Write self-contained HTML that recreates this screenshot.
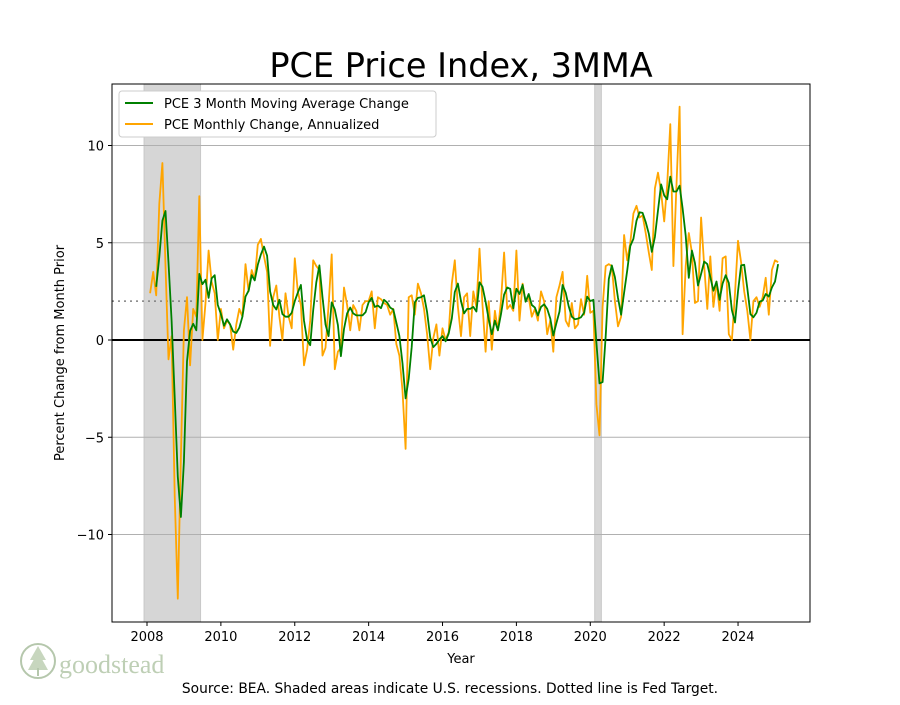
<!DOCTYPE html>
<html><head><meta charset="utf-8"><style>
body{margin:0;background:#fff;font-family:"Liberation Sans","DejaVu Sans",sans-serif;}
</style></head><body>
<svg id="chart" width="900" height="700" xmlns="http://www.w3.org/2000/svg" font-family="DejaVu Sans, Liberation Sans, sans-serif">
<rect width="900" height="700" fill="#fff"/>
<text x="461" y="77" font-size="33.5" text-anchor="middle" fill="#000">PCE Price Index, 3MMA</text>
<g id="plot"></g>
<text x="461" y="663" font-size="13" text-anchor="middle">Year</text>
<text transform="translate(64,353) rotate(-90)" font-size="13" text-anchor="middle">Percent Change from Month Prior</text>
<text x="450" y="693" font-size="13.8" text-anchor="middle">Source: BEA. Shaded areas indicate U.S. recessions. Dotted line is Fed Target.</text>
<g opacity="0.55">
<circle cx="38" cy="661" r="17" fill="none" stroke="#7a9a6a" stroke-width="2"/>
<path d="M38 646 L30 660 L46 660 Z M38 652 L28 670 L48 670 Z" fill="#9ab58a"/>
<rect x="37" y="668" width="2" height="8" fill="#7a9a6a"/>
<text x="59" y="673" font-family="Liberation Serif, serif" font-size="26" fill="#8aa87a">goodstead</text>
</g>
<g>
<rect x="119" y="91" width="317" height="46" fill="#fff" stroke="#ccc" rx="3"/>
<line x1="125" y1="103" x2="153" y2="103" stroke="#008000" stroke-width="2"/>
<text x="164" y="108" font-size="13">PCE 3 Month Moving Average Change</text>
<line x1="125" y1="124" x2="153" y2="124" stroke="#ffa500" stroke-width="2"/>
<text x="164" y="129" font-size="13">PCE Monthly Change, Annualized</text>
</g>
</svg>
<script>
const monthly = [
2.4,3.5,2.3,7.0,9.1,3.8,-1.0,0.2,-8.0,-13.3,-6.0,
0.5,2.2,-1.3,1.6,1.2,7.4,0.0,1.9,4.6,3.0,2.4,0.0,
1.6,0.6,1.0,0.8,-0.5,0.8,1.6,1.2,3.9,2.5,3.6,3.1,
4.9,5.2,4.3,3.5,-0.3,2.2,2.8,1.2,0.0,2.4,1.2,0.6,
4.2,2.5,1.8,-1.3,-0.5,1.0,4.1,3.8,3.6,-0.8,-0.4,1.8,
4.4,-1.5,-0.6,-0.4,2.7,1.8,0.5,1.8,1.5,0.5,1.8,2.0,
2.0,2.5,0.6,2.2,2.1,1.9,1.8,1.3,1.6,-0.2,-0.8,-2.6,
-5.6,2.2,2.3,1.3,2.9,2.4,1.6,0.3,-1.5,0.1,0.8,-0.8,
0.6,0.0,0.4,2.9,4.1,1.7,0.2,2.2,2.4,0.2,2.5,1.7,
4.7,1.8,-0.6,2.0,-0.5,1.5,0.5,2.0,4.5,1.6,1.8,1.5,
4.6,1.0,2.9,2.0,2.2,1.2,1.6,1.0,2.5,2.0,0.3,1.0,
-0.6,2.2,2.8,3.5,1.0,0.7,1.9,0.6,0.8,2.1,1.3,3.3,
1.4,1.5,-3.3,-4.9,1.7,3.8,3.9,3.8,2.0,0.7,1.2,5.4,
4.1,5.0,6.5,6.9,6.3,6.4,5.5,4.5,3.6,7.8,8.6,7.6,
6.1,8.0,11.1,3.8,8.0,12.0,0.3,3.8,5.5,4.5,1.9,2.0,
6.3,3.8,1.6,4.3,1.7,3.0,1.5,4.2,4.3,0.3,0.0,2.4,
5.1,4.0,2.5,1.5,0.0,2.0,2.2,1.7,2.2,3.2,1.3,3.6,
4.1,4.0];
const startYear = 2008, startMonth = 1; // Feb 2008
const yTicks = [10,5,0,-5,-10];
const yTickLabels = ["10","5","0","\u22125","\u221210"];
const xTicks = [2008,2010,2012,2014,2016,2018,2020,2022,2024];
const recessions = [[2007.92,2009.45],[2020.12,2020.3]];
const fedTarget = 2;

const L=112,R=810,T=84,B=622;
const xs = t => 147 + (t-2008)*36.94;
const ys = v => 340 - v*19.45;
const NS="http://www.w3.org/2000/svg";
const g=document.getElementById('plot');
function mk(tag,attrs){const e=document.createElementNS(NS,tag);for(const k in attrs)e.setAttribute(k,attrs[k]);g.appendChild(e);return e;}

recessions.forEach(r=>{
 const e=mk('rect',{x:xs(r[0]),y:T,width:xs(r[1])-xs(r[0]),height:B-T,fill:'#d6d6d6',stroke:'#c8c8c8'});
 
 
});
yTicks.forEach((v,i)=>{
 if(v!==0){const gl=mk('line',{x1:L,x2:R,y1:ys(v),y2:ys(v),stroke:'#b0b0b0','stroke-width':1});
 
 }
 mk('line',{x1:L-4,x2:L,y1:ys(v),y2:ys(v),stroke:'#000'});
 const t=mk('text',{x:L-8,y:ys(v)+5,'font-size':13,'text-anchor':'end'});
 t.textContent=yTickLabels[i];
 
 
});
xTicks.forEach(v=>{
 mk('line',{x1:xs(v),x2:xs(v),y1:B,y2:B+4,stroke:'#000'});
 const t=mk('text',{x:xs(v),y:B+19,'font-size':13,'text-anchor':'middle'});
 t.textContent=String(v);
 
 
});
const zl=mk('line',{x1:L,x2:R,y1:ys(0),y2:ys(0),stroke:'#000','stroke-width':2});


const fl=mk('line',{x1:L,x2:R,y1:ys(fedTarget),y2:ys(fedTarget),stroke:'#808080','stroke-width':1.5,'stroke-dasharray':'2,4'});



const tOf = i => startYear + (startMonth+i)/12;
let p1=monthly.map((v,i)=>xs(tOf(i)).toFixed(1)+','+ys(v).toFixed(1)).join(' ');
const o=mk('polyline',{points:p1,fill:'none',stroke:'#ffa500','stroke-width':1.8,'stroke-linejoin':'round'});


let pts=[];
for(let i=2;i<monthly.length;i++){const a=(monthly[i]+monthly[i-1]+monthly[i-2])/3;pts.push(xs(tOf(i)).toFixed(1)+','+ys(a).toFixed(1));}
const gr=mk('polyline',{points:pts.join(' '),fill:'none',stroke:'#008000','stroke-width':1.8,'stroke-linejoin':'round'});


const fr=mk('rect',{x:L,y:T,width:R-L,height:B-T,fill:'none',stroke:'#000','stroke-width':1});


</script>
</body></html>
